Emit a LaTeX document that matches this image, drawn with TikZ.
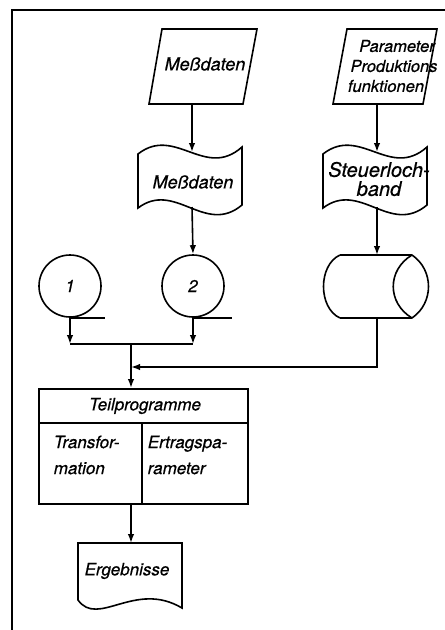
\documentclass[tikz,border=0pt]{standalone}
\usepackage{fontspec}
\setmainfont{TeX Gyre Heros}[FakeBold=0.6]
\usetikzlibrary{arrows.meta}
\begin{document}
\begin{tikzpicture}[x=1pt,y=-1pt,line width=1.6pt,line join=miter]
\tikzset{
  arr/.style={-{Latex[length=9pt,width=6.5pt]}},
  lbl/.style={font=\itshape\fontsize{17}{26}\selectfont,inner sep=0pt},
  lblmd/.style={font=\itshape\fontsize{18}{20}\selectfont,inner sep=0pt},
  lblsmall/.style={font=\itshape\fontsize{16.5}{20}\selectfont,inner sep=0pt},
  lblbig/.style={font=\itshape\fontsize{20}{19}\selectfont,inner sep=0pt,align=center},
  disk/.style={draw,circle,minimum size=62pt,inner sep=0pt,font=\itshape\fontsize{17}{20}\selectfont},
}
\useasboundingbox (0,0) rectangle (445,630);
% frame
\draw[line width=1.8pt] (445,10) -- (12,10) -- (12,630);

% input parallelogram Messdaten
\draw (162,29) -- (257,29) -- (243,104) -- (149,104) -- cycle;
\node[lblmd] (p1) at (205,64) {Meßdaten};
\coordinate (p1s) at (192,104);

% input parallelogram Parameter
\draw (347,29) -- (437,29) -- (423,104) -- (333,104) -- cycle;
\node[lblsmall] (p2a) at (397,46) {Parameter};
\node[lblsmall] (p2b) at (394,66) {Produktions};
\node[lblsmall] (p2c) at (386,86) {funktionen};
\coordinate (p2s) at (377,104);

% punched tape Messdaten
\draw (138,154) .. controls (175,125) and (205,180) .. (242,147)
  -- (242,205) .. controls (205,236) and (175,180) .. (138,208) -- cycle;
\node[lblmd] (t1) at (193,182) {Meßdaten};
\coordinate (t1n) at (192,152);
\coordinate (t1s) at (192,207);

% punched tape Steuerlochband
\begin{scope}[shift={(185,0)}]
\draw (138,154) .. controls (175,125) and (205,180) .. (242,147)
  -- (242,205) .. controls (205,236) and (175,180) .. (138,208) -- cycle;
\coordinate (t2n) at (192,152);
\coordinate (t2s) at (192,207);
\end{scope}
\node[lblbig] (t2) at (379,179) {Steuerloch-\\band};

% disks
\node[disk] (c1) at (70,286) {1};
\node[disk] (c2) at (193,286) {2};
\draw (c1.south) -- ++(35,0);
\draw (c2.south) -- ++(39,0);

% cylinder
\draw (340,255) -- (412,255)
      (340,318) -- (412,318)
      (340,255) .. controls (318,265) and (318,308) .. (340,318)
      (412,255) .. controls (387,270) and (387,303) .. (412,318)
      (412,255) .. controls (434,270) and (434,303) .. (412,318);
\coordinate (cyn) at (377,255);
\coordinate (cys) at (377,318);

% program box
\node[draw,minimum width=209pt,minimum height=115pt,anchor=north west,inner sep=0pt] (box) at (38,388) {};
\draw ([yshift=-35pt]box.north west) coordinate (hl) -- ([yshift=-35pt]box.north east) coordinate (hr);
\draw ([xshift=104pt]hl) -- ([xshift=104pt]hl |- box.south);
\node[lbl] (tp) at (145,406) {Teilprogramme};
\node[lbl,anchor=west,align=left] (tr) at (53,455) {Transfor-\\mation};
\node[lbl,anchor=west,align=left] (ep) at (147,455) {Ertragspa-\\rameter};

% document Ergebnisse
\draw (78,543) -- (182,543) -- (182,608) .. controls (135,580) and (98,628) .. (78,600) -- cycle;
\node[lbl] (erg) at (127,571) {Ergebnisse};
\coordinate (ergn) at (131,543);

% junctions
\coordinate (j1) at (131,344);
\coordinate (j2) at (131,367);

% connectors
\draw[arr] (p1s) -- (t1n);
\draw[arr] (p2s) -- (t2n);
\draw[arr] (t1s) -- (c2.north);
\draw[arr] (t2s) -- (cyn);
\draw[arr] (c1.south) -- (c1.south |- j1);
\draw[arr] (c2.south) -- (c2.south |- j1);
\draw (c1.south |- j1) -- (c2.south |- j1);
\draw[arr] (j1) -- (j1 |- box.north);
\draw[arr] (cys) |- (j2);
\draw[arr] (j1 |- box.south) -- (ergn);
\end{tikzpicture}
\end{document}
